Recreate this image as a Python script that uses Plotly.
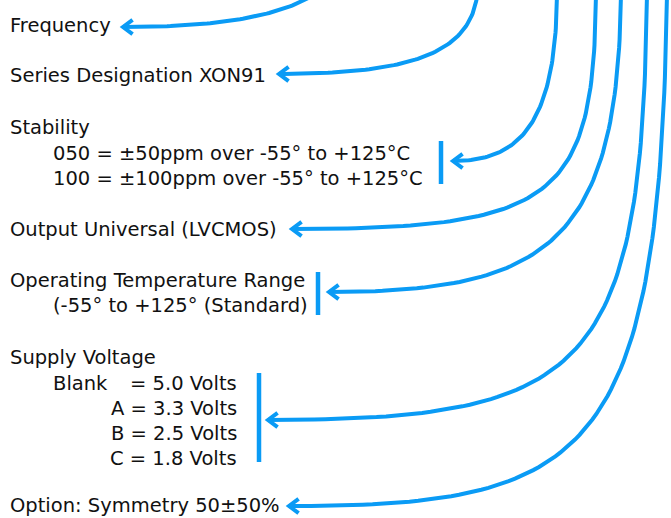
import math
import plotly.graph_objects as go

# ---- content (text of the ordering-code diagram) ----
heading_labels = [
    "Frequency",
    "Series Designation XON91",
    "Stability",
    "Output Universal (LVCMOS)",
    "Operating Temperature Range",
    "Supply Voltage",
    "Option: Symmetry 50\u00b150%",
]
heading_rows = [25, 75, 127, 229, 280, 357, 505]

stability_options = [
    "050 = \u00b150ppm over -55\u00b0 to +125\u00b0C",
    "100 = \u00b1100ppm over -55\u00b0 to +125\u00b0C",
]
stability_rows = [153, 178]

temperature_note = "(-55\u00b0 to +125\u00b0 (Standard)"
temperature_row = 305

voltage_codes = ["Blank", "A", "B", "C"]
voltage_values = ["5.0", "3.3", "2.5", "1.8"]
voltage_rows = [383, 408, 433, 458]

# ---- connector geometry (cubic curves: start, ctrl1, ctrl2, arrow tip) ----
connectors = [
    [(332, -20), (300, 15), (225, 27), (123, 27)],      # Frequency
    [(478, -15), (476, 50), (420, 74), (279, 74)],      # Series
    [(557, -5), (556, 130), (515, 161), (453, 161)],    # Stability
    [(596, -5), (594, 200), (555, 229), (292, 229)],    # Output
    [(621, -5), (618, 245), (545, 292), (329, 292)],    # Operating temp
    [(647, -5), (642, 370), (590, 420), (268, 420)],    # Supply voltage
    [(667, -5), (660, 460), (590, 506), (289, 506)],    # Option
]
brackets = [(441, 141, 184), (318, 272, 315), (259, 373, 462)]

BLUE = "#0a9bf5"
FONT = "DejaVu Sans"
FS = 19.5

def bezier(p0, p1, p2, p3, n=80):
    xs, ys = [], []
    for i in range(n + 1):
        t = i / n
        a, b, c, d = (1 - t) ** 3, 3 * (1 - t) ** 2 * t, 3 * (1 - t) * t ** 2, t ** 3
        xs.append(a * p0[0] + b * p1[0] + c * p2[0] + d * p3[0])
        ys.append(a * p0[1] + b * p1[1] + c * p2[1] + d * p3[1])
    return xs, ys

def chevron(p2, p3, length=12, ang=37):
    dx, dy = p2[0] - p3[0], p2[1] - p3[1]
    L = math.hypot(dx, dy)
    ux, uy = dx / L, dy / L
    pts = []
    for s in (1, -1):
        a = math.radians(ang * s)
        rx = ux * math.cos(a) - uy * math.sin(a)
        ry = ux * math.sin(a) + uy * math.cos(a)
        pts.append((p3[0] + rx * length, p3[1] + ry * length))
    return [pts[0][0], p3[0], pts[1][0]], [pts[0][1], p3[1], pts[1][1]]

fig = go.Figure()
for p0, p1, p2, p3 in connectors:
    xs, ys = bezier(p0, p1, p2, p3)
    fig.add_trace(go.Scatter(x=xs, y=ys, mode="lines", line=dict(color=BLUE, width=4),
                             hoverinfo="skip", showlegend=False))
    cx, cy = chevron(p2, p3)
    fig.add_trace(go.Scatter(x=cx, y=cy, mode="lines", line=dict(color=BLUE, width=4),
                             hoverinfo="skip", showlegend=False))
for bx, y0, y1 in brackets:
    fig.add_trace(go.Scatter(x=[bx, bx], y=[y0, y1], mode="lines",
                             line=dict(color=BLUE, width=4.5),
                             hoverinfo="skip", showlegend=False))

ann = []
def txt(x, y, s, anchor="left"):
    ann.append(dict(x=x, y=y, text=s, xref="x", yref="y", showarrow=False,
                    xanchor=anchor, yanchor="middle", borderpad=0,
                    font=dict(family=FONT, size=FS, color="#111111")))

for s, y in zip(heading_labels, heading_rows):
    txt(9, y, s)
for s, y in zip(stability_options, stability_rows):
    txt(52, y, s)
txt(52, temperature_row, temperature_note)
for code, val, y in zip(voltage_codes, voltage_values, voltage_rows):
    if code == "Blank":
        txt(52, y, code)
        txt(238, y, "= " + val + " Volts", "right")
    else:
        txt(238, y, code + " = " + val + " Volts", "right")

fig.update_layout(
    width=671, height=518,
    margin=dict(l=0, r=0, t=0, b=0),
    paper_bgcolor="white", plot_bgcolor="white",
    xaxis=dict(range=[0, 671], visible=False, fixedrange=True),
    yaxis=dict(range=[518, 0], visible=False, fixedrange=True),
    annotations=ann,
)
fig.write_html("out.html", config={"displayModeBar": False},
               post_script="document.body.style.margin='0';")
